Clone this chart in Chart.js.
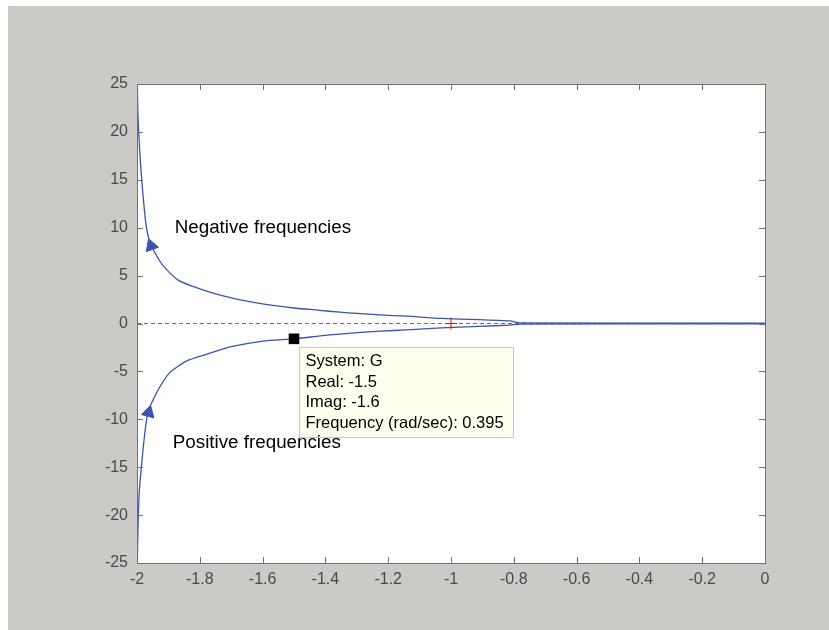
<!DOCTYPE html>
<html>
<head>
<meta charset="utf-8">
<script src="https://cdn.jsdelivr.net/npm/chart.js"></script>
<style>
  html, body { margin: 0; padding: 0; background: #ffffff; }
  canvas { display: block; }
</style>
</head>
<body>
<canvas id="myChart" width="829" height="630"></canvas>
<script>
    // curve: negative frequencies (upper branch)
    let negRe = [-1.999, -1.997, -1.991, -1.985, -1.972, -1.958, -1.927, -1.905, -1.868, -1.820, -1.760, -1.690, -1.600, -1.500, -1.420, -1.354, -1.299, -1.226, -1.140, -1.032, -0.911, -0.812, -0.780, 0];
    let negIm = [25, 21.7, 17.8, 15.0, 10.5, 8.4, 6.5, 5.6, 4.5, 3.85, 3.2, 2.6, 2.05, 1.62, 1.38, 1.18, 1.05, 0.90, 0.76, 0.53, 0.40, 0.27, 0.06, 0.04];

    // positive frequencies (lower branch)
    let posRe = [-1.999, -1.997, -1.993, -1.985, -1.975, -1.965, -1.949, -1.927, -1.895, -1.841, -1.777, -1.704, -1.599, -1.500, -1.417, -1.354, -1.299, -1.226, -1.140, -1.032, -0.911, -0.812, -0.780, 0];
    let posIm = [-25, -21.6, -17.7, -14.6, -11.4, -9.2, -8.0, -6.6, -5.1, -3.9, -3.2, -2.45, -1.83, -1.60, -1.30, -1.10, -0.96, -0.80, -0.66, -0.45, -0.30, -0.16, -0.06, -0.04];

    // direction arrows, data tip, critical point
    let arrowPts = [{ x: -1.955, y: 8.1 }, { x: -1.963, y: -9.3 }];
    let tipPoint = { x: -1.5, y: -1.6 };
    let critPoint = { x: -1, y: 0 };
    let tipLines = ['System: G', 'Real: -1.5', 'Imag: -1.6', 'Frequency (rad/sec): 0.395'];

    // annotations
    let notes = [
        { text: 'Negative frequencies', x: -1.880, y: 10.0 },
        { text: 'Positive frequencies', x: -1.886, y: -12.5 }
    ];

    // ticks
    let xTickValues = [-2, -1.8, -1.6, -1.4, -1.2, -1, -0.8, -0.6, -0.4, -0.2, 0];
    let xTickLabels = ['-2', '-1.8', '-1.6', '-1.4', '-1.2', '-1', '-0.8', '-0.6', '-0.4', '-0.2', '0'];
    let yTickValues = [-25, -20, -15, -10, -5, 0, 5, 10, 15, 20, 25];
    let yTickLabels = ['-25', '-20', '-15', '-10', '-5', '0', '5', '10', '15', '20', '25'];

    const FONT = '"Liberation Sans", Arial, sans-serif';
    const BLUE = '#3a55ad';

    let toPts = (re, im) => re.map((r, i) => ({ x: r, y: im[i] }));

    // figure background, white axes area, box with inward ticks, texts
    const matlabLook = {
        id: 'matlabLook',
        beforeDraw(chart) {
            const ctx = chart.ctx, a = chart.chartArea;
            ctx.save();
            ctx.fillStyle = '#ffffff';
            ctx.fillRect(0, 0, chart.width, chart.height);
            ctx.fillStyle = '#cccac7';
            ctx.fillRect(8, 6, chart.width - 8, chart.height - 6);
            ctx.fillStyle = '#ffffff';
            ctx.fillRect(a.left, a.top, a.right - a.left, a.bottom - a.top);
            ctx.restore();
        },
        afterDraw(chart) {
            const ctx = chart.ctx, a = chart.chartArea;
            const xs = chart.scales.x, ys = chart.scales.y;
            ctx.save();
            ctx.strokeStyle = '#707070';
            ctx.lineWidth = 1;
            ctx.beginPath();
            xTickValues.forEach(v => {
                const px = Math.round(xs.getPixelForValue(v)) + 0.5;
                ctx.moveTo(px, a.bottom); ctx.lineTo(px, a.bottom - 6);
                ctx.moveTo(px, a.top); ctx.lineTo(px, a.top + 6);
            });
            yTickValues.forEach(v => {
                const py = Math.round(ys.getPixelForValue(v)) + 0.5;
                ctx.moveTo(a.left, py); ctx.lineTo(a.left + 6, py);
                ctx.moveTo(a.right, py); ctx.lineTo(a.right - 6, py);
            });
            ctx.stroke();
            ctx.strokeRect(Math.round(a.left) + 0.5, Math.round(a.top) + 0.5,
                Math.round(a.right - a.left), Math.round(a.bottom - a.top));

            // data tip box
            const tx = xs.getPixelForValue(tipPoint.x), ty = ys.getPixelForValue(tipPoint.y);
            const bx = Math.round(tx) + 5.5, by = Math.round(ty) + 8.5;
            ctx.fillStyle = '#ffffee';
            ctx.fillRect(bx, by, 214, 90);
            ctx.strokeStyle = '#c8c8c0';
            ctx.strokeRect(bx, by, 214, 90);
            ctx.fillStyle = '#000000';
            ctx.textBaseline = 'middle';
            ctx.textAlign = 'left';
            ctx.font = '16.5px ' + FONT;
            tipLines.forEach((t, i) => {
                ctx.fillText(t, bx + 6, by + 14 + i * 20.6);
            });

            // text annotations
            ctx.font = '18.8px ' + FONT;
            notes.forEach(n => {
                ctx.fillText(n.text, xs.getPixelForValue(n.x), ys.getPixelForValue(n.y));
            });
            ctx.restore();
        }
    };

    var ctx = document.getElementById('myChart').getContext('2d');

    var myChart = new Chart(ctx, {
        type: 'scatter',
        data: {
            datasets: [
                {
                    label: 'data tip',
                    data: [tipPoint],
                    pointStyle: 'rect',
                    pointRadius: 7.5,
                    backgroundColor: '#000000',
                    borderColor: '#000000',
                    borderWidth: 0,
                    order: 0
                },
                {
                    label: 'critical point',
                    data: [critPoint],
                    pointStyle: 'cross',
                    pointRadius: 6,
                    borderColor: '#ff0000',
                    borderWidth: 1,
                    order: 0
                },
                {
                    label: 'arrows',
                    data: arrowPts,
                    pointStyle: 'triangle',
                    pointRadius: 7.5,
                    rotation: [-20, 15],
                    backgroundColor: BLUE,
                    borderColor: BLUE,
                    borderWidth: 1,
                    order: 1
                },
                {
                    label: 'Negative frequencies',
                    data: toPts(negRe, negIm),
                    showLine: true,
                    borderColor: BLUE,
                    borderWidth: 1.3,
                    pointRadius: 0,
                    tension: 0.2,
                    order: 2
                },
                {
                    label: 'Positive frequencies',
                    data: toPts(posRe, posIm),
                    showLine: true,
                    borderColor: BLUE,
                    borderWidth: 1.3,
                    pointRadius: 0,
                    tension: 0.2,
                    order: 2
                },
                {
                    label: 'real axis',
                    data: [{ x: -2, y: 0 }, { x: 0, y: 0 }],
                    showLine: true,
                    borderColor: '#6e6e6e',
                    borderWidth: 1,
                    borderDash: [4, 3],
                    pointRadius: 0,
                    order: 3
                }
            ]
        },
        options: {
            responsive: false,
            animation: false,
            events: [],
            layout: { padding: { top: 84, right: 64, left: 0, bottom: 0 } },
            plugins: {
                legend: { display: false },
                tooltip: { enabled: false }
            },
            scales: {
                x: {
                    type: 'linear',
                    min: -2,
                    max: 0,
                    afterFit: s => { s.height = 67; },
                    afterBuildTicks: s => { s.ticks = xTickValues.map(v => ({ value: v })); },
                    grid: { display: false, drawTicks: false },
                    border: { display: false },
                    ticks: {
                        autoSkip: false,
                        maxRotation: 0,
                        padding: 7,
                        color: '#4a4a4a',
                        font: { family: FONT, size: 16 },
                        callback: (v, i) => xTickLabels[i]
                    }
                },
                y: {
                    type: 'linear',
                    min: -25,
                    max: 25,
                    afterFit: s => { s.width = 137; },
                    afterBuildTicks: s => { s.ticks = yTickValues.map(v => ({ value: v })); },
                    grid: { display: false, drawTicks: false },
                    border: { display: false },
                    ticks: {
                        autoSkip: false,
                        padding: 9,
                        color: '#4a4a4a',
                        font: { family: FONT, size: 16 },
                        callback: (v, i) => yTickLabels[i]
                    }
                }
            }
        },
        plugins: [matlabLook]
    });
</script>
</body>
</html>
